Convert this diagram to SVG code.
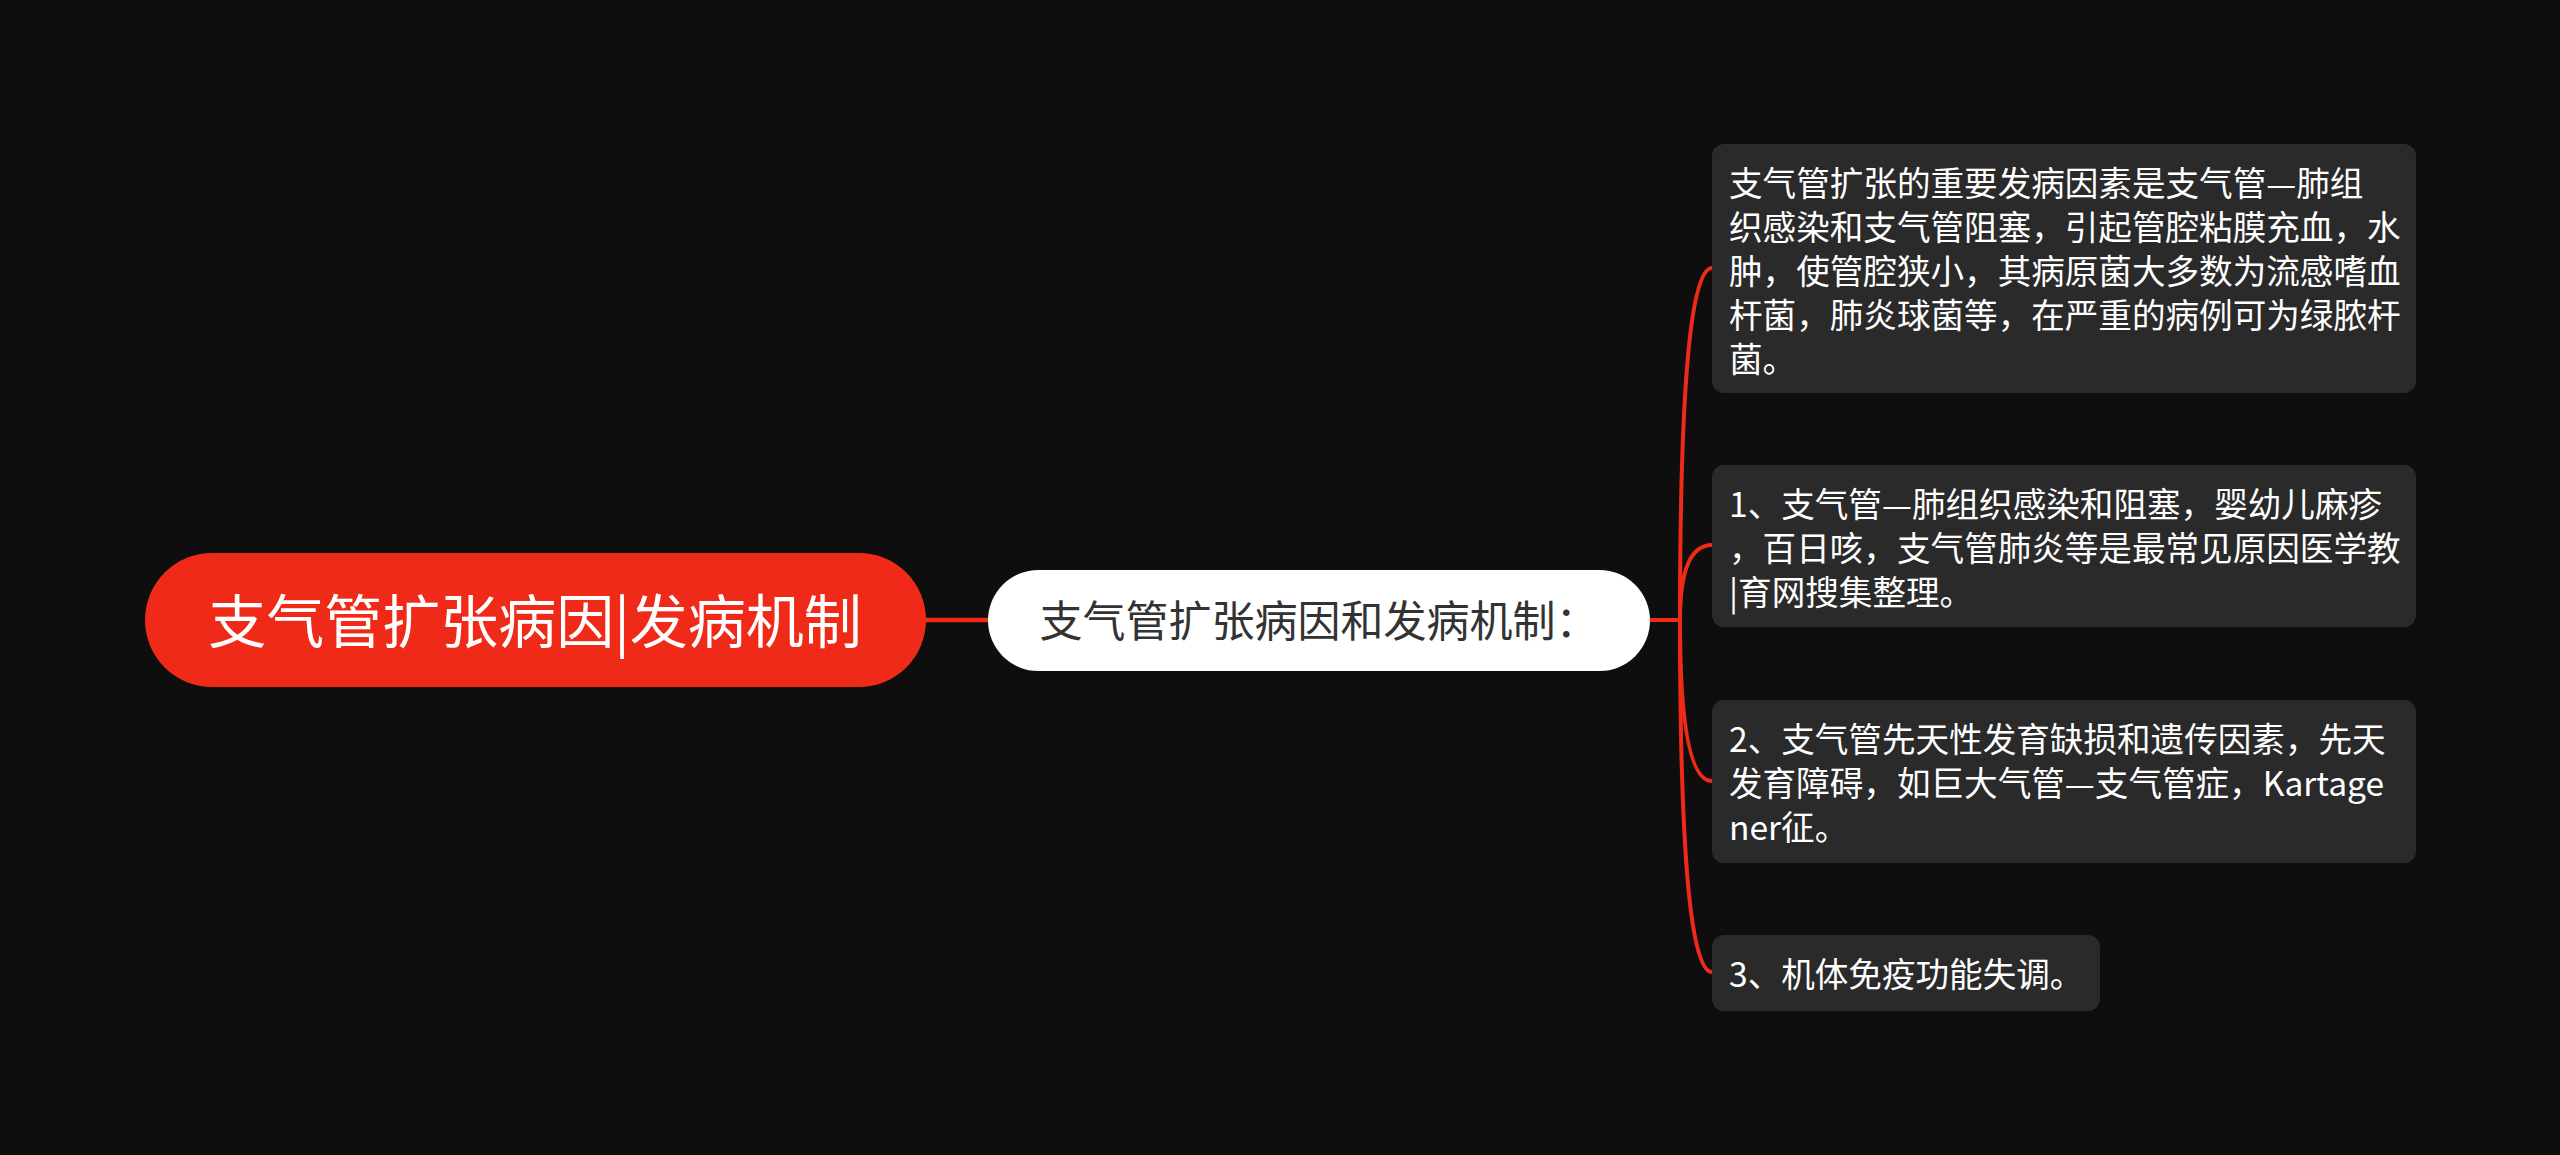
<svg xmlns="http://www.w3.org/2000/svg" width="2560" height="1155" viewBox="0 0 2560 1155">
<style>
.bg{fill:#0e0e0e}
.root{fill:#ef2a18}
.mid{fill:#ffffff}
.leaf{fill:#2a2a2a}
.t{font-family:"Noto Sans CJK SC","Noto Sans",sans-serif}
.rt{font-size:58px;fill:#ffffff}
.mt{font-size:43px;fill:#333333}
.lt{font-size:33.6px;fill:#ffffff}
.c{fill:none;stroke:#ef2a18;stroke-width:4;stroke-linecap:round}
</style>
<rect class="bg" x="0" y="0" width="2560" height="1155"/>
<g id="connectors">
<path class="c" style="stroke-width:4.5" d="M926 620 H988"/>
<path class="c" d="M1650 620 H1680"/>
<path class="c" d="M1680 620 Q1680 268 1712 268"/>
<path class="c" d="M1680 620 Q1680 545 1712 545"/>
<path class="c" d="M1680 620 Q1680 781 1712 781"/>
<path class="c" d="M1680 620 Q1680 972 1712 972"/>
</g>
<g id="node-root">
<rect class="root" x="145" y="553" width="781" height="134" rx="67"/>
<text class="t rt" x="535" y="643" text-anchor="middle">支气管扩张病因|发病机制</text>
</g>
<g id="node-mid">
<rect class="mid" x="988" y="570" width="662" height="101" rx="50.5"/>
<text class="t mt" x="1319" y="637" text-anchor="middle">支气管扩张病因和发病机制：</text>
</g>
<g id="node-1">
<rect class="leaf" x="1712" y="144" width="704" height="249" rx="12"/>
<text class="t lt" x="1729" y="196">支气管扩张的重要发病因素是支气管—肺组</text>
<text class="t lt" x="1729" y="240">织感染和支气管阻塞，引起管腔粘膜充血，水</text>
<text class="t lt" x="1729" y="284">肿，使管腔狭小，其病原菌大多数为流感嗜血</text>
<text class="t lt" x="1729" y="328">杆菌，肺炎球菌等，在严重的病例可为绿脓杆</text>
<text class="t lt" x="1729" y="372">菌。</text>
</g>
<g id="node-2">
<rect class="leaf" x="1712" y="465" width="704" height="162" rx="12"/>
<text class="t lt" x="1729" y="517">1、支气管—肺组织感染和阻塞，婴幼儿麻疹</text>
<text class="t lt" x="1729" y="561">，百日咳，支气管肺炎等是最常见原因医学教</text>
<text class="t lt" x="1729" y="605">|育网搜集整理。</text>
</g>
<g id="node-3">
<rect class="leaf" x="1712" y="700" width="704" height="163" rx="12"/>
<text class="t lt" x="1729" y="752">2、支气管先天性发育缺损和遗传因素，先天</text>
<text class="t lt" x="1729" y="796">发育障碍，如巨大气管—支气管症，Kartage</text>
<text class="t lt" x="1729" y="840">ner征。</text>
</g>
<g id="node-4">
<rect class="leaf" x="1712" y="935" width="388" height="76" rx="12"/>
<text class="t lt" x="1729" y="987">3、机体免疫功能失调。</text>
</g>
</svg>
